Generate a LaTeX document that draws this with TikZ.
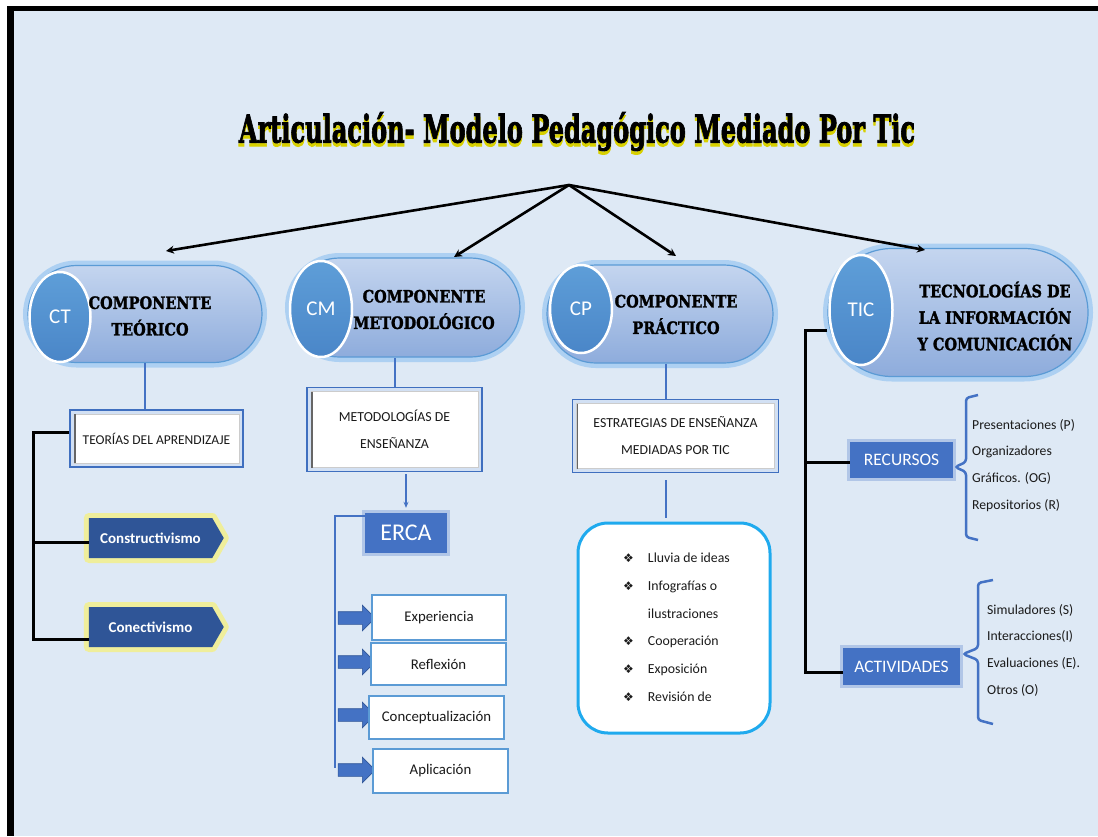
\documentclass[tikz,border=0pt]{standalone}
\usepackage{fontspec}
\usepackage{graphicx}
\setmainfont{Carlito}
\newfontfamily\headf{DejaVu Serif}[FakeStretch=0.85, BoldFeatures={FakeBold=1.6}]
\newfontfamily\titlef{DejaVu Serif}[BoldFeatures={FakeBold=2.5}]
\newfontfamily\symf{DejaVu Sans}
\usetikzlibrary{shapes.misc,shapes.geometric,shapes.symbols,shapes.arrows,arrows.meta}
\definecolor{bgblue}{HTML}{DEE9F5}
\definecolor{pilltop}{HTML}{C4D5EF}
\definecolor{pillbot}{HTML}{8EACDC}
\definecolor{pilledge}{HTML}{5B9BD5}
\definecolor{pillglow}{HTML}{86BDF0}
\definecolor{circtop}{HTML}{5E9ED8}
\definecolor{circbot}{HTML}{4A86C8}
\definecolor{dblue}{HTML}{2F5597}
\definecolor{mblue}{HTML}{4472C4}
\definecolor{lblue}{HTML}{5B9BD5}
\definecolor{fblue}{HTML}{3F6FBF}
\definecolor{fband}{HTML}{D2E0F3}
\definecolor{cyanb}{HTML}{1FAAEE}
\definecolor{yglow}{HTML}{F3F08C}
\definecolor{titley}{HTML}{D8D000}
\definecolor{txt}{HTML}{1A1A1A}
\begin{document}
\begin{tikzpicture}[x=1pt,y=-1pt,
  pill/.style={rounded rectangle, draw=pilledge, line width=1.2pt, top color=pilltop, bottom color=pillbot,
    preaction={draw=pillglow, line width=10pt, draw opacity=0.55}, inner sep=0pt},
  circ/.style={ellipse, top color=circtop, bottom color=circbot, draw=white, line width=2.5pt, text=white,
    font=\fontsize{21}{21}\selectfont, inner sep=0pt},
  ptext/.style={align=center, font=\headf\bfseries\fontsize{17}{26.5}\selectfont, inner sep=0pt},
  fbox/.style={rectangle, draw=fblue, line width=1.8pt, fill=fband, align=center, inner sep=0pt, text=txt,
    font=\fontsize{13.8}{27}\selectfont,
    path picture={
      \fill[white] ([shift={(4pt,-4pt)}]path picture bounding box.north west) rectangle ([shift={(-4pt,4pt)}]path picture bounding box.south east);
      \draw[gray!40, line width=0.8pt] ([shift={(4pt,-4pt)}]path picture bounding box.north west) rectangle ([shift={(-4pt,4pt)}]path picture bounding box.south east);
      \draw[gray!80!black, line width=1.6pt] ([shift={(4.8pt,-4pt)}]path picture bounding box.north west) -- ([shift={(4.8pt,4pt)}]path picture bounding box.south west);}},
  sig/.style={signal, signal to=east, signal pointer angle=120, fill=dblue, text=white,
    preaction={draw=yglow, line width=10pt, line join=round, draw opacity=0.85},
    font=\bfseries\fontsize{15}{15}\selectfont, minimum width=135pt, minimum height=40pt, inner sep=0pt},
  bbox/.style={rectangle, fill=mblue, text=white, inner sep=0pt,
    preaction={draw=mblue!70, line width=6pt, draw opacity=0.45}},
  wbox/.style={rectangle, draw=lblue, line width=1.3pt, fill=white, inner sep=0pt, text=txt, font=\fontsize{14.8}{14.8}\selectfont},
  barrow/.style={single arrow, fill=mblue, draw=dblue, line width=0.6pt, minimum height=37pt,
    single arrow head extend=6.5pt, inner xsep=0pt, inner ysep=6pt},
  hubarrow/.style={line width=2.6pt, -{Stealth[length=8pt,width=8pt]}},
  bline/.style={draw=mblue, line width=2pt},
  kline/.style={draw=black, line width=3pt},
  brace/.style={draw=mblue, line width=2.5pt, rounded corners=3pt},
  list/.style={inner sep=0pt, anchor=west, text=txt}
]
\useasboundingbox (0,0) rectangle (1098,836);
\fill[white] (0,0) rectangle (1098,836);
\fill[bgblue] (7,6) rectangle (1098,836);
\fill[black] (7,6) rectangle (14,836);
\fill[black] (7,6) rectangle (1098,11);

% title (yellow underlay gives the yellow lower edge of the letters)
\node[text=titley, inner sep=0pt] (titleshadow) at (577,135) {\resizebox*{676pt}{39pt}{\titlef\bfseries Articulación- Modelo Pedagógico Mediado Por Tic}};
\node[text=black, inner sep=0pt] (title) at (577,131.5) {\resizebox*{676pt}{39pt}{\titlef\bfseries Articulación- Modelo Pedagógico Mediado Por Tic}};

% hub arrows
\coordinate (hub) at (569,185);
\coordinate (aCT) at (166,251);
\coordinate (aCM) at (454,257);
\coordinate (aCP) at (676,256);
\coordinate (aTIC) at (925,250);

% ---- CT column
\node[pill, minimum width=234pt, minimum height=97pt] (ct) at (145,314) {};
\node[circ, minimum width=61pt, minimum height=90pt] (ctc) at (60,317) {CT};
\node[ptext] (ctt) at (150,316) {COMPONENTE\\TEÓRICO};
\node[fbox, minimum width=173pt, minimum height=57pt, font=\fontsize{13.5}{14}\selectfont] (teorias) at (156.5,438.5) {TEORÍAS DEL APRENDIZAJE};
\node[sig] (constr) at (150.5,538) {Constructivismo};
\node[sig] (conect) at (150.5,627) {Conectivismo};
\coordinate (ctbot) at (33,639);

% ---- CM column
\node[pill, minimum width=230pt, minimum height=99pt] (cm) at (405,307.5) {};
\node[circ, minimum width=62pt, minimum height=96pt] (cmc) at (321,309) {CM};
\node[ptext] (cmt) at (424,309.5) {COMPONENTE\\METODOLÓGICO};
\node[fbox, minimum width=175pt, minimum height=84pt] (metodo) at (394.5,429.5) {METODOLOGÍAS DE\\ENSEÑANZA};
\node[bbox, minimum width=82pt, minimum height=40pt, font=\fontsize{24}{24}\selectfont] (erca) at (406,533) {ERCA};
\coordinate (ercabot) at (335,768);
\node[barrow] (ar1) at (353.5,618) {};
\node[barrow] (ar2) at (353.5,662) {};
\node[barrow] (ar3) at (353.5,715) {};
\node[barrow] (ar4) at (353.5,770) {};
\node[wbox, minimum width=134pt, minimum height=45pt] (exp) at (439,617.5) {Experiencia};
\node[wbox, minimum width=135pt, minimum height=42pt] (ref) at (438.5,664) {Reflexión};
\node[wbox, minimum width=135pt, minimum height=43pt] (con) at (436.5,717.5) {Conceptualización};
\node[wbox, minimum width=135pt, minimum height=44pt] (apl) at (440.5,771) {Aplicación};

% ---- CP column
\node[pill, minimum width=226pt, minimum height=98pt] (cp) at (660,314) {};
\node[circ, minimum width=62pt, minimum height=88pt] (cpc) at (581,309) {CP};
\node[ptext] (cpt) at (676,314.5) {COMPONENTE\\PRÁCTICO};
\node[fbox, minimum width=206pt, minimum height=73pt] (estrat) at (675.5,436) {ESTRATEGIAS DE ENSEÑANZA\\MEDIADAS POR TIC};
\coordinate (cpx) at (666,0);
\node[rectangle, rounded corners=30pt, draw=cyanb, line width=3pt, fill=white, minimum width=192pt, minimum height=210pt] (ideas) at (674,628) {};
\node[list, font=\fontsize{13.8}{27.8}\selectfont] (ideaslist) at (623,626.5) {\begin{tabular}{@{}l@{\hspace{14pt}}l@{}}
{\symf\fontsize{12}{12}\selectfont ❖} & Lluvia de ideas\\
{\symf\fontsize{12}{12}\selectfont ❖} & Infografías o\\
 & ilustraciones\\
{\symf\fontsize{12}{12}\selectfont ❖} & Cooperación\\
{\symf\fontsize{12}{12}\selectfont ❖} & Exposición\\
{\symf\fontsize{12}{12}\selectfont ❖} & Revisión de
\end{tabular}};

% ---- TIC column
\node[pill, minimum width=260pt, minimum height=128pt] (tic) at (958,312.5) {};
\node[circ, minimum width=63pt, minimum height=110pt] (ticc) at (861,310) {TIC};
\node[ptext] (tict) at (995,316) {TECNOLOGÍAS DE\\LA INFORMACIÓN\\Y COMUNICACIÓN};
\node[bbox, minimum width=103pt, minimum height=36pt, font=\fontsize{17.5}{17.5}\selectfont] (recur) at (901.5,460) {RECURSOS};
\node[bbox, minimum width=117pt, minimum height=37pt, font=\fontsize{17.5}{17.5}\selectfont] (activ) at (901.5,666.5) {ACTIVIDADES};
\coordinate (ticbot) at (805,672);
\node[list, font=\fontsize{13.7}{26.7}\selectfont] (reclist) at (972,464) {\begin{tabular}{@{}l@{}}
Presentaciones (P)\\ Organizadores\\ Gráficos. (OG)\\ Repositorios (R)\end{tabular}};
\node[list, font=\fontsize{13.7}{26.7}\selectfont] (actlist) at (987,649) {\begin{tabular}{@{}l@{}}
Simuladores (S)\\ Interacciones(I)\\ Evaluaciones (E).\\ Otros (O)\end{tabular}};
\coordinate (b1tip) at (955,467);
\coordinate (b2tip) at (963,654);

% ---- connectors
\draw[hubarrow] (hub) -- (aCT);
\draw[hubarrow] (hub) -- (aCM);
\draw[hubarrow] (hub) -- (aCP);
\draw[hubarrow] (hub) -- (aTIC);

\draw[bline] (ct.south) -- (ct.south |- teorias.north);
\draw[kline] ([yshift=6.5pt]teorias.west) -| (ctbot) -- (conect.west |- ctbot);
\draw[kline] (ctbot |- constr.west) ++(0,4) -- ([yshift=-4pt]constr.west);

\draw[bline] (metodo.north) -- (metodo.north |- cm.south);
\draw[bline, -{Stealth[length=6pt,width=5pt]}, shorten <=2pt, shorten >=5pt] (metodo.south -| erca.north) -- (erca.north);
\draw[bline, line width=2.5pt] ([yshift=-3pt]erca.north west) -| (ercabot);

\draw[bline] (cp.south -| cpx) -- (estrat.north -| cpx);
\draw[bline, shorten <=7pt, shorten >=4pt] (estrat.south -| cpx) -- (ideas.north -| cpx);

\draw[kline] ([yshift=-17.5pt]tic.west) -| (ticbot) -- (activ.west |- ticbot);
\draw[kline] (ticbot |- recur.west) ++(0,2) -- ([yshift=-2pt]recur.west);

\draw[brace] (978,395) -- (966,398) -- (966,462) -- (b1tip) -- (966,472) -- (966,537) -- (978,540);
\draw[brace] (993,580) -- (978,583) -- (978,648) -- (b2tip) -- (978,660) -- (978,720) -- (993,724);
\end{tikzpicture}
\end{document}
